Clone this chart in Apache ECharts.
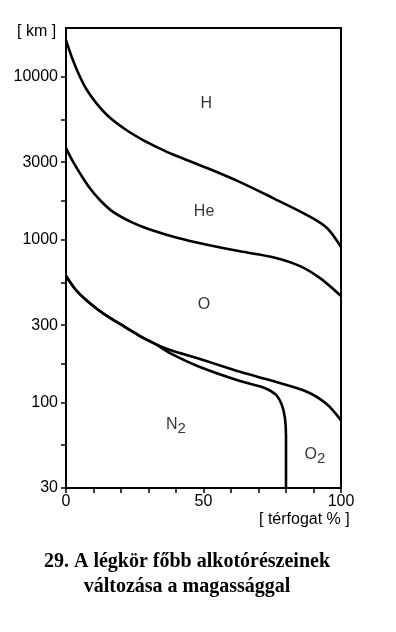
<!DOCTYPE html>
<html><head><meta charset="utf-8">
<style>html,body{margin:0;padding:0;background:#fff;}#c{width:396px;height:632px;}</style>
<script src="https://cdn.jsdelivr.net/npm/echarts@6/dist/echarts.min.js"></script>
</head><body><div id="c"></div>
<script>
// Boundary curves: cumulative volume % (x) vs altitude in km (y)
const hHePct = [0, 2.5, 5.1, 7.6, 11.3, 16.0, 22.2, 28.0, 34.2, 38.9, 51.3, 63.3, 75.3, 87.6, 94.9, 100];
const hHeAlt = [16870, 12710, 10000, 8320, 6820, 5620, 4696, 4105, 3636, 3345, 2762, 2265, 1807, 1422, 1184, 905];

const heOPct = [0, 2.5, 5.1, 8.7, 12.4, 17.1, 24.4, 31.6, 40.7, 51.3, 63.3, 75.3, 85.1, 92.4, 100];
const heOAlt = [3664, 3034, 2563, 2075, 1752, 1486, 1272, 1142, 1028, 935, 851, 783, 691, 583, 453];

const oO2Pct = [0, 3.3, 6.9, 11.3, 16.0, 21.5, 26.9, 32.4, 37.8, 48.7, 63.3, 75.3, 87.6, 94.9, 100];
const oO2Alt = [600, 500, 434, 377, 332, 292, 257, 230, 211, 186, 155, 136, 117, 98, 78];

const n2Pct = [0, 3.3, 6.9, 11.3, 16.0, 21.5, 26.9, 32.4, 37.8, 48.7, 63.3, 72.4, 76.4, 78.5, 79.6, 80, 80];
const n2Alt = [600, 500, 434, 377, 332, 292, 257, 230, 202, 166, 136, 123, 112, 97, 81, 63, 30];

const labelNames = ['H', 'He', 'O', 'N{s|2}', 'O{s|2}'];
const labelPct = [51, 50.2, 50.2, 40, 90.5];
const labelAlt = [6900, 1500, 400, 74, 48];

const yLabelValues = [30, 100, 300, 1000, 3000, 10000];
const yTickValues = [30, 55, 100, 173, 300, 548, 1000, 1730, 3000, 5477, 10000];
const xLabelValues = [0, 50, 100];

const zip = (a, b) => a.map((v, i) => [v, b[i]]);
const lineS = (p, a) => ({
  type: 'line', data: zip(p, a), showSymbol: false, symbol: 'none', smooth: 0.3,
  lineStyle: { color: '#000', width: 2.6 }, silent: true, animation: false
});

const chart = echarts.init(document.getElementById('c'), null, { renderer: 'canvas' });
const sans = 'Liberation Sans, Arial, sans-serif';
const axisFont = { fontFamily: sans, fontSize: 16, color: '#000' };
chart.setOption({
  animation: false,
  backgroundColor: '#fff',
  grid: { left: 66, right: 55, top: 28, bottom: 144, show: true, borderColor: '#000', borderWidth: 2, backgroundColor: 'transparent' },
  xAxis: {
    type: 'value', min: 0, max: 100, interval: 10,
    axisLine: { show: true, lineStyle: { color: '#000', width: 2 } },
    axisTick: { show: true, inside: false, length: 5, lineStyle: { color: '#000', width: 1.5 } },
    axisLabel: Object.assign({ margin: 6, formatter: v => (xLabelValues.indexOf(v) >= 0 ? String(v) : '') }, axisFont),
    splitLine: { show: false }
  },
  yAxis: {
    type: 'log', logBase: 10, min: 30, max: 20000,
    axisLine: { show: true, lineStyle: { color: '#000', width: 2 } },
    axisTick: { show: true, length: 5, customValues: yTickValues, lineStyle: { color: '#000', width: 1.5 } },
    axisLabel: Object.assign({ margin: 8, customValues: yLabelValues, formatter: v => String(Math.round(v)) }, axisFont),
    splitLine: { show: false }, minorTick: { show: false }
  },
  series: [
    lineS(hHePct, hHeAlt),
    lineS(heOPct, heOAlt),
    lineS(oO2Pct, oO2Alt),
    lineS(n2Pct, n2Alt),
    {
      type: 'scatter', symbolSize: 0, silent: true,
      data: labelNames.map((n, i) => ({ value: [labelPct[i], labelAlt[i]], name: n })),
      label: {
        show: true, position: 'inside', formatter: p => p.name,
        fontFamily: sans, fontSize: 16, color: '#000',
        rich: { s: { fontFamily: sans, fontSize: 15, color: '#000', verticalAlign: 'bottom', padding: [9, 0, 0, 0] } }
      }
    }
  ],
  graphic: [
    { type: 'text', left: 17, top: 24, style: { text: '[ km ]', font: '16px "Liberation Sans", Arial, sans-serif', fill: '#000' } },
    { type: 'text', left: 259, top: 512, style: { text: '[ térfogat % ]', font: '16px "Liberation Sans", Arial, sans-serif', fill: '#000' } },
    { type: 'text', x: 187, y: 562, style: { text: '29. A légkör főbb alkotórészeinek', align: 'center', verticalAlign: 'middle', font: 'bold 20px "Liberation Serif", "Times New Roman", serif', fill: '#000' } },
    { type: 'text', x: 187, y: 587, style: { text: 'változása a magassággal', align: 'center', verticalAlign: 'middle', font: 'bold 20px "Liberation Serif", "Times New Roman", serif', fill: '#000' } }
  ]
});
</script></body></html>
